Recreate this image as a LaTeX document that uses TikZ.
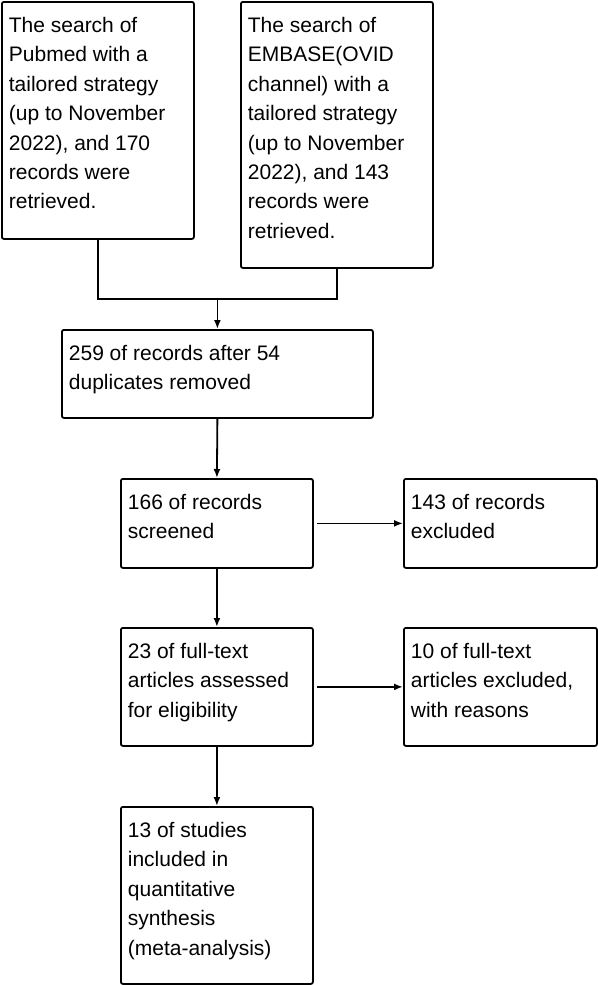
\documentclass[tikz,border=0pt]{standalone}
\usepackage{fontspec}
\setmainfont{Liberation Sans}
\usetikzlibrary{arrows.meta}

\newcommand{\boxtext}[3]{\parbox[c][#1][t]{#2}{\raggedright\vspace*{10pt}\strut #3}}

\tikzset{
  box/.style={draw, line width=1.8pt, rounded corners=2pt, anchor=north west,
    inner xsep=7pt, inner ysep=0pt,
    font=\fontsize{21}{29.4}\selectfont},
  arr/.style={line width=1.8pt, -{Latex[length=9pt,width=7pt]}},
  line/.style={line width=1.8pt}
}

\begin{document}
\begin{tikzpicture}[x=1pt,y=-1pt]
\useasboundingbox (0,0) rectangle (597,985);

\node[box] (pubmed) at (1,1) {\boxtext{237pt}{178pt}{The search of\\Pubmed with a\\tailored strategy\\(up to November\\2022), and 170\\records were\\retrieved.}};
\node[box] (embase) at (240,1) {\boxtext{266pt}{178pt}{The search of\\EMBASE(OVID\\channel) with a\\tailored strategy\\(up to November\\2022), and 143\\records were\\retrieved.}};

\node[box] (dedup) at (61,329) {\boxtext{88pt}{297pt}{259 of records after 54\\duplicates removed}};

\node[box] (screened) at (120,478) {\boxtext{89pt}{178pt}{166 of records\\screened}};
\node[box] (excl) at (403,478) {\boxtext{89pt}{179pt}{143 of records\\excluded}};

\node[box] (fulltext) at (120,627) {\boxtext{118pt}{178pt}{23 of full-text\\articles assessed\\for eligibility}};
\node[box] (ftexcl) at (403,627) {\boxtext{118pt}{179pt}{10 of full-text\\articles excluded,\\with reasons}};

\node[box] (included) at (120,806) {\boxtext{177pt}{178pt}{13 of studies\\included in\\quantitative\\synthesis\\(meta-analysis)}};

% merge of the two searches
\coordinate (join) at (dedup.north |- 0,299);
\draw[line] (pubmed.south) -- (pubmed.south |- join) -- (embase.south |- join) -- (embase.south);
\draw[arr] (join) -- (dedup.north);

\draw[arr] (dedup.south) -- (screened.north);
\draw[arr] (screened.south) -- (fulltext.north);
\draw[arr] (fulltext.south) -- (included.north);

\draw[arr,shorten <=3pt] (screened.east) -- (excl.west);
\draw[arr,shorten <=3pt] (fulltext.east) -- (ftexcl.west);

\end{tikzpicture}
\end{document}
